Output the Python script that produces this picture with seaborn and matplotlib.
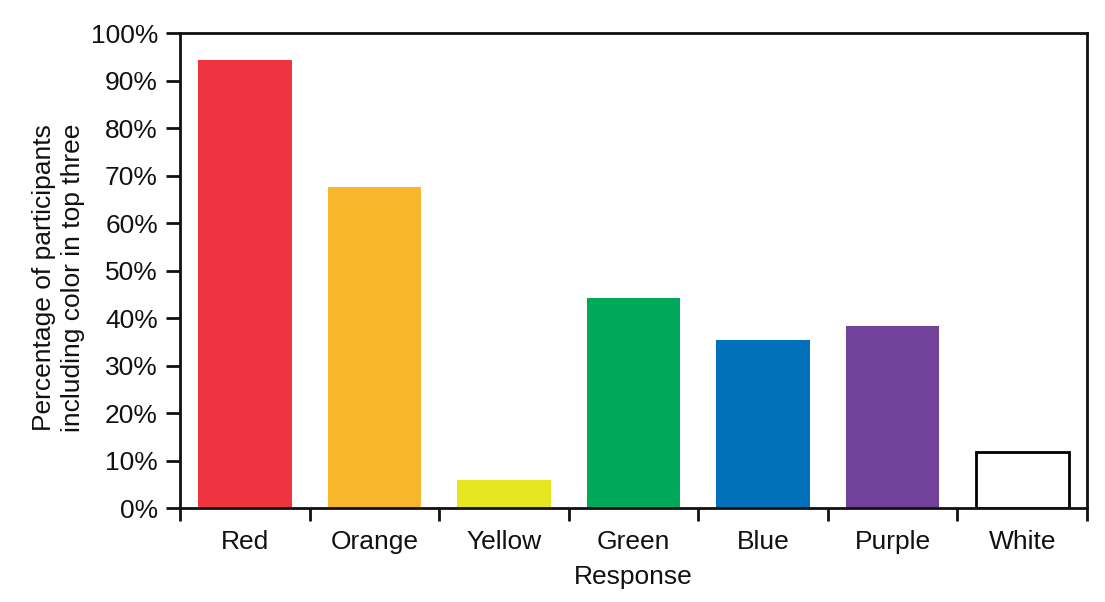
"""
Bar chart: percentage of participants including each color in their top three
"""

import matplotlib
matplotlib.use('Agg')
import matplotlib.pyplot as plt
from matplotlib.ticker import FixedLocator, PercentFormatter
import pandas as pd
import seaborn as sns

# Data
colors_names = ['Red', 'Orange', 'Yellow', 'Green', 'Blue', 'Purple', 'White']
percentages = [94.3, 67.6, 5.9, 44.3, 35.4, 38.3, 11.8]
bar_colors = ['#EE3440', '#F8B62B', '#E6E620', '#00A859', '#0070BA', '#72429A', '#FFFFFF']

y_ticks = list(range(0, 101, 10))

sns.set_theme(style='ticks')
plt.rcParams['font.family'] = ['Liberation Sans', 'DejaVu Sans']

FS = 19

df = pd.DataFrame({'Response': colors_names, 'Percent': percentages})

fig, ax = plt.subplots(figsize=(11.05, 6.02), dpi=100)
fig.subplots_adjust(left=0.163, right=0.9837, bottom=0.156, top=0.945)

sns.barplot(data=df, x='Response', y='Percent', hue='Response',
            palette=bar_colors, legend=False, width=0.72,
            saturation=1, ax=ax)

# White bar only gets an outline
for patch, name in zip(ax.patches, colors_names):
    if name == 'White':
        patch.set_edgecolor('black')
        patch.set_linewidth(2)
    else:
        patch.set_linewidth(0)

ax.set_xlim(-0.5, len(colors_names) - 0.5)
ax.set_ylim(0, 100)
ax.set_yticks(y_ticks)
ax.yaxis.set_major_formatter(PercentFormatter(decimals=0))

# ticks between categories, labels at centers
ax.xaxis.set_minor_locator(FixedLocator([i - 0.5 for i in range(len(colors_names) + 1)]))
ax.tick_params(axis='x', which='major', length=0, labelsize=FS, pad=16, colors='#111111')
ax.tick_params(axis='x', which='minor', length=9, width=2, direction='out', color='#111111')
ax.tick_params(axis='y', length=10, width=2, labelsize=FS, pad=6, colors='#111111')

for spine in ax.spines.values():
    spine.set_linewidth(2)
    spine.set_color('#111111')

ax.set_xlabel('Response', fontsize=FS, labelpad=8, color='#111111')
ax.set_ylabel('Percentage of participants\nincluding color in top three',
              fontsize=FS, labelpad=4, color='#111111', linespacing=1.25)
ax.yaxis.label.set_y(0.485)

plt.savefig('out.png', dpi=100)
plt.close()
